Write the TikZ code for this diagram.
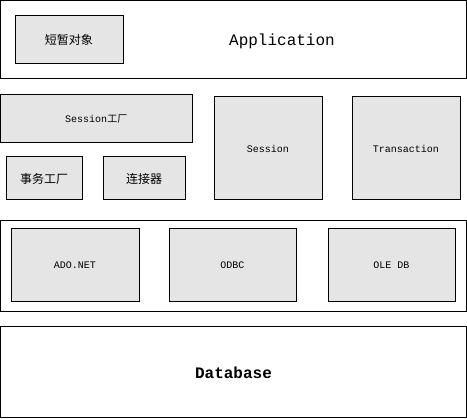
\documentclass[tikz,border=0pt]{standalone}
\usepackage{fontspec}
\setmonofont{Liberation Mono}
\newfontfamily\cjk{Noto Sans CJK SC}
\begin{document}
\begin{tikzpicture}[x=1pt,y=-1pt,line width=1pt,
  layer/.style={draw,fill=white,inner sep=0pt},
  part/.style={draw,fill=black!10,inner sep=0pt,font=\ttfamily\fontsize{10}{12}\selectfont}]
\useasboundingbox (0,0) rectangle (467,419);
\node[layer,minimum width=466,minimum height=78] (app) at (233.5,39.5) {};
\node[part,minimum width=108,minimum height=48,font=\cjk\fontsize{12}{14}\selectfont] (shortobj) at (69,40) {短暂对象};
\node[font=\ttfamily\fontsize{16}{18}\selectfont] (apptext) at (282,41) {Application};
\node[part,minimum width=191.5,minimum height=48] (sfactory) at (96.25,119) {Session{\cjk 工厂}};
\node[part,minimum width=76,minimum height=43,font=\cjk\fontsize{12}{14}\selectfont] (txfactory) at (44,178.5) {事务工厂};
\node[part,minimum width=82,minimum height=43,font=\cjk\fontsize{12}{14}\selectfont] (connector) at (144,178.5) {连接器};
\node[part,minimum width=108,minimum height=103] (session) at (268,148.5) {Session};
\node[part,minimum width=108,minimum height=103] (transaction) at (406,148.5) {Transaction};
\node[layer,minimum width=466,minimum height=91] (provider) at (233.5,266.5) {};
\node[part,minimum width=128,minimum height=73] (ado) at (75,265.5) {ADO.NET};
\node[part,minimum width=127,minimum height=73] (odbc) at (232.5,265.5) {ODBC};
\node[part,minimum width=127,minimum height=73] (oledb) at (391.5,265.5) {OLE DB};
\node[layer,minimum width=466,minimum height=91,font=\ttfamily\bfseries\fontsize{16}{18}\selectfont] (database) at (233.5,372.5) {Database};
\end{tikzpicture}
\end{document}
